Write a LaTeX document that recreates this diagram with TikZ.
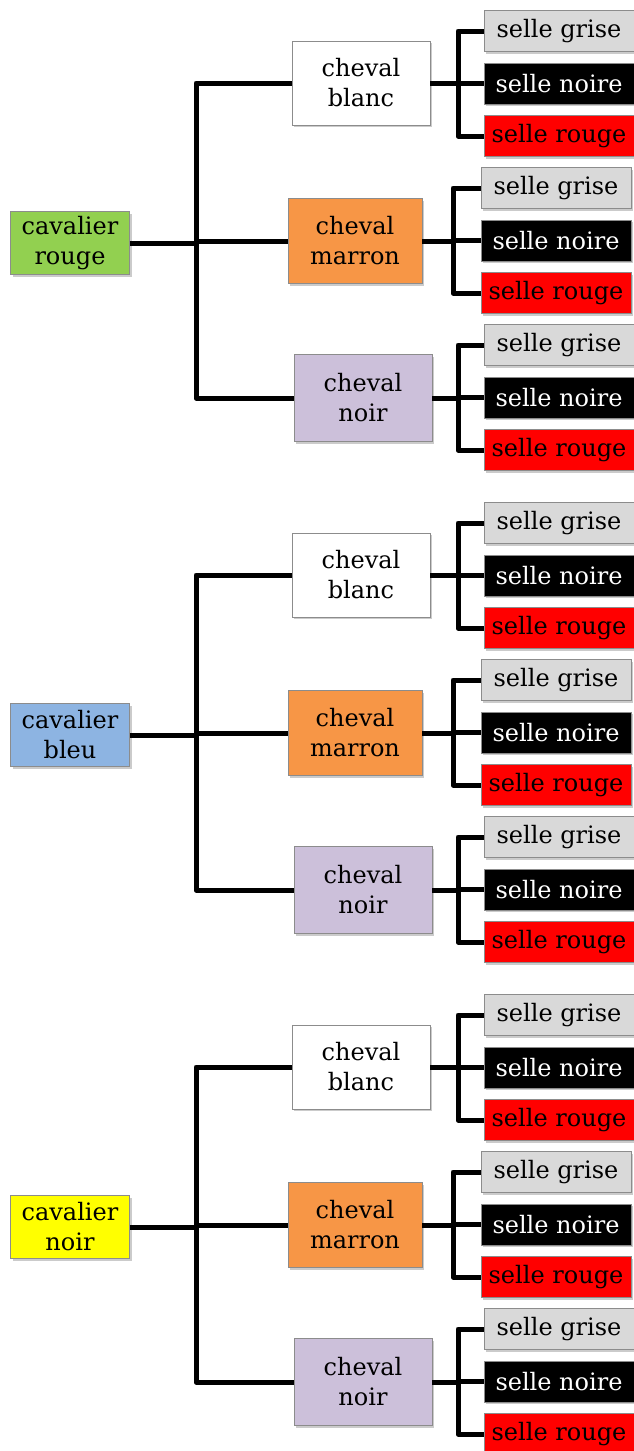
\documentclass[tikz,border=0pt]{standalone}
\usepackage{fontspec}
\setmainfont{DejaVu Serif}
\usetikzlibrary{shadows}
\definecolor{cgreen}{HTML}{92D050}
\definecolor{cblue}{HTML}{8DB4E2}
\definecolor{cyellow}{HTML}{FFFF00}
\definecolor{corange}{HTML}{F79646}
\definecolor{clav}{HTML}{CCC0DA}
\definecolor{cgrey}{HTML}{D9D9D9}
\definecolor{cred}{HTML}{FF0000}
\tikzset{
  box/.style={draw=black!45, line width=0.8pt, align=center, inner sep=0pt,
    font=\fontsize{24}{30}\selectfont,
    drop shadow={shadow xshift=2pt, shadow yshift=-2pt, fill=black!40, opacity=0.5}},
  cav/.style={box, minimum width=119pt, minimum height=63pt},
  chev/.style={box, minimum width=138pt, minimum height=84pt},
  selle/.style={box, minimum width=150pt, minimum height=41pt},
  grise/.style={selle, fill=cgrey},
  noire/.style={selle, fill=black, text=white},
  rougebox/.style={selle, fill=cred},
  conn/.style={line width=5pt, line join=round},
}
\begin{document}
\begin{tikzpicture}[x=1pt,y=-1pt]
\useasboundingbox[fill=white] (0,0) rectangle (634,1451);
\foreach \k/\cn/\cc in {0/rouge/cgreen, 1/bleu/cblue, 2/noir/cyellow}{
  \begin{scope}[yshift=-492*\k pt]
    \node[cav, fill=\cc] (c\k) at (70,243) {cavalier\\\cn};
    \node[chev, fill=white] (h\k1) at (361,83) {cheval\\blanc};
    \node[chev, fill=corange, minimum width=134pt, minimum height=85pt] (h\k2) at (355,241) {cheval\\marron};
    \node[chev, fill=clav, minimum height=87pt] (h\k3) at (363,398) {cheval\\noir};
    \coordinate (tx\k) at (196,0);
    \coordinate (t\k) at (c\k.east -| tx\k);
    \draw[conn] (c\k.east) -- (t\k);
    \draw[conn] (t\k) |- (h\k1.west);
    \draw[conn] (t\k) |- (h\k2.west);
    \draw[conn] (t\k) |- (h\k3.west);
    \foreach \h/\sx/\sy/\spx in {1/559/31/458, 2/556/188/453, 3/559/345/458}{
      \node[grise] (s\k\h1) at (\sx,\sy) {selle grise};
      \node[noire] (s\k\h2) at (\sx,\sy+52.5) {selle noire};
      \node[rougebox] (s\k\h3) at (\sx,\sy+105) {selle rouge};
      \coordinate (vx\k\h) at (\spx,0);
      \coordinate (sp\k\h) at (h\k\h.east -| vx\k\h);
      \draw[conn] (h\k\h.east) -- (sp\k\h);
      \draw[conn] (sp\k\h) |- (s\k\h1.west);
      \draw[conn] (sp\k\h) |- (s\k\h2.west);
      \draw[conn] (sp\k\h) |- (s\k\h3.west);
    }
  \end{scope}
}
\end{tikzpicture}
\end{document}
